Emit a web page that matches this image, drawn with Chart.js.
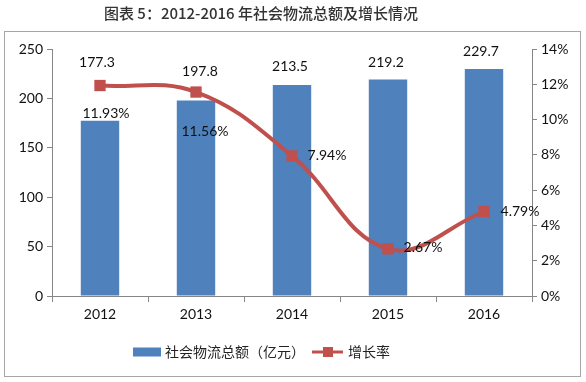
<!DOCTYPE html>
<html>
<head>
<meta charset="utf-8">
<script src="https://cdn.jsdelivr.net/npm/chart.js@4/dist/chart.umd.min.js"></script>
<style>
html,body{margin:0;padding:0;background:#fff;}
#wrap{width:586px;height:382px;position:relative;}
</style>
</head>
<body>
<div id="wrap"><canvas id="c" width="586" height="382"></canvas></div>
<script>
const titleText = '图表 5：2012-2016 年社会物流总额及增长情况';
const years = ['2012', '2013', '2014', '2015', '2016'];
const totals = [177.3, 197.8, 213.5, 219.2, 229.7];
const growth = [11.93, 11.56, 7.94, 2.67, 4.79];
const barName = '社会物流总额（亿元）';
const lineName = '增长率';

// label placement (pixel offsets from each mark)
const barLabelOffsets = [[-3, -58], [4, -29], [-2, -19], [-2, -17], [-3, -18]];
const lineLabelOffsets = [[6, 28], [9, 39], [35, 0], [35, -1], [36, 0]];

const BLUE = '#4F81BD';
const RED = '#C0504D';
const AXIS = '#868686';
const LATIN = 'Lato, "Noto Sans CJK SC", sans-serif';
const CJK = '"Noto Sans CJK SC", sans-serif';

const decor = {
  id: 'decor',
  beforeDraw(chart) {
    const ctx = chart.ctx;
    ctx.save();
    ctx.fillStyle = '#fff';
    ctx.fillRect(0, 0, chart.width, chart.height);
    ctx.strokeStyle = '#A6A6A6';
    ctx.lineWidth = 1;
    ctx.strokeRect(4.5, 31.5, 576, 345);
    // title
    ctx.fillStyle = '#333';
    ctx.font = '500 15px ' + CJK;
    ctx.textAlign = 'center';
    ctx.textBaseline = 'middle';
    ctx.fillText(titleText, 261, 13);
    ctx.restore();
  },
  afterDatasetsDraw(chart) {
    const ctx = chart.ctx;
    const bars = chart.getDatasetMeta(1).data;
    const pts = chart.getDatasetMeta(0).data;
    ctx.save();
    ctx.fillStyle = '#111';
    ctx.font = '14px ' + LATIN;
    ctx.textAlign = 'center';
    ctx.textBaseline = 'middle';
    bars.forEach((b, i) => {
      const o = barLabelOffsets[i];
      ctx.fillText(totals[i].toFixed(1), b.x + o[0], b.y + o[1]);
    });
    pts.forEach((p, i) => {
      const o = lineLabelOffsets[i];
      ctx.fillText(growth[i].toFixed(2) + '%', p.x + o[0], p.y + o[1]);
    });
    // legend
    const ly = 352;
    ctx.fillStyle = BLUE;
    ctx.fillRect(133, ly - 4.5, 28, 9);
    ctx.fillStyle = '#222';
    ctx.font = '14px ' + CJK;
    ctx.textAlign = 'left';
    ctx.fillText(barName, 165, ly);
    ctx.strokeStyle = RED;
    ctx.lineWidth = 3;
    ctx.beginPath();
    ctx.moveTo(312, ly);
    ctx.lineTo(343, ly);
    ctx.stroke();
    ctx.fillStyle = RED;
    ctx.fillRect(323, ly - 5, 10, 10);
    ctx.fillStyle = '#222';
    ctx.fillText(lineName, 348, ly);
    ctx.restore();
  }
};

new Chart(document.getElementById('c'), {
  data: {
    labels: years,
    datasets: [
      {
        type: 'line',
        label: lineName,
        data: growth,
        yAxisID: 'y2',
        borderColor: RED,
        backgroundColor: RED,
        borderWidth: 4,
        tension: 0.4,
        pointStyle: 'rect',
        pointRadius: 8,
        pointHoverRadius: 8,
        pointBorderWidth: 0,
        order: 0
      },
      {
        type: 'bar',
        label: barName,
        data: totals,
        yAxisID: 'y',
        backgroundColor: BLUE,
        categoryPercentage: 1,
        barPercentage: 0.4,
        order: 1
      }
    ]
  },
  options: {
    responsive: false,
    animation: false,
    layout: { padding: { left: 0, right: 0, top: 49, bottom: 56 } },
    plugins: { legend: { display: false }, title: { display: false }, tooltip: { enabled: false } },
    scales: {
      x: {
        offset: true,
        grid: { display: true, drawOnChartArea: false, offset: true, tickLength: 6, color: AXIS },
        border: { display: true, color: AXIS },
        ticks: { color: '#111', font: { family: LATIN, size: 14 }, padding: 4 },
        afterFit(s) { s.height = 30; }
      },
      y: {
        position: 'left',
        min: 0, max: 250,
        ticks: { stepSize: 50, color: '#111', font: { family: LATIN, size: 14 }, padding: 4 },
        grid: { display: true, drawOnChartArea: false, tickLength: 5, color: AXIS },
        border: { display: true, color: AXIS },
        afterFit(s) { s.width = 52; }
      },
      y2: {
        position: 'right',
        min: 0, max: 14,
        ticks: { stepSize: 2, color: '#111', font: { family: LATIN, size: 14 }, padding: 4,
          callback: v => v + '%' },
        grid: { display: true, drawOnChartArea: false, tickLength: 5, color: AXIS },
        border: { display: true, color: AXIS },
        afterFit(s) { s.width = 54; }
      }
    }
  },
  plugins: [decor]
});
</script>
</body>
</html>
